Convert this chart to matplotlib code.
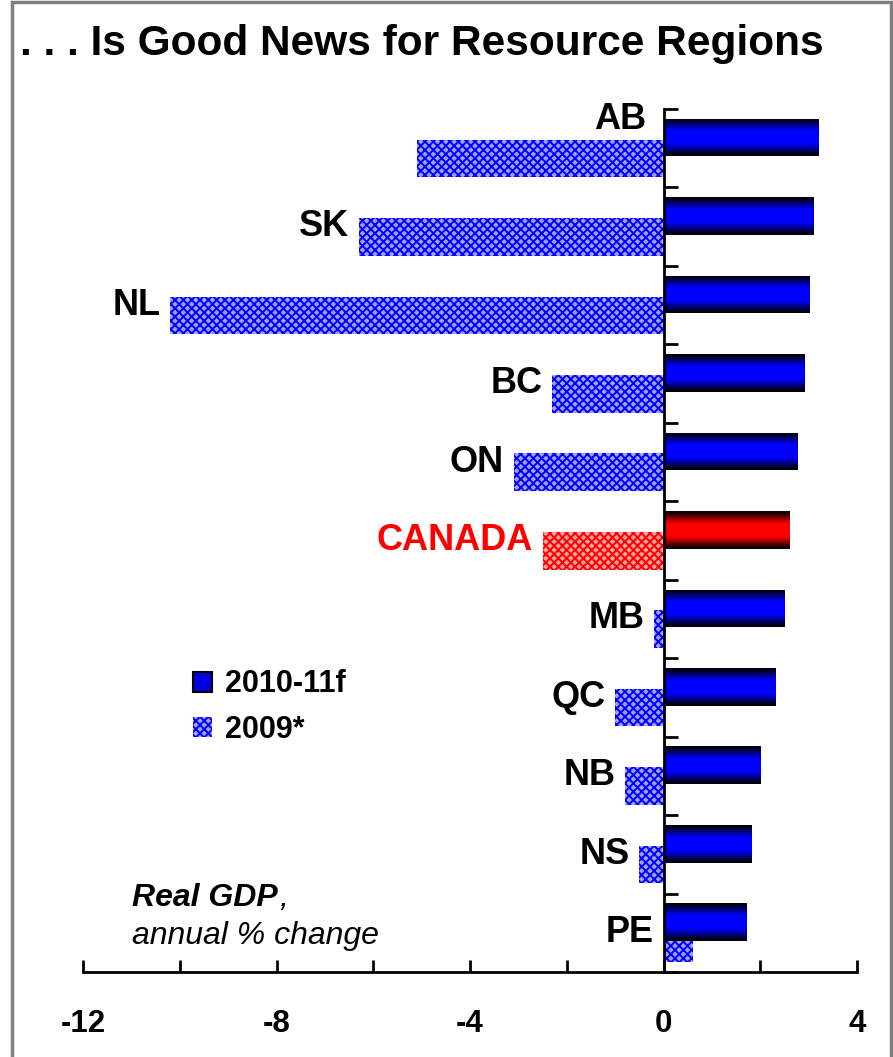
import numpy as np
import matplotlib
matplotlib.use("Agg")
import matplotlib.pyplot as plt
from matplotlib.patches import Rectangle, Patch

# data
regions = ["AB", "SK", "NL", "BC", "ON", "CANADA", "MB", "QC", "NB", "NS", "PE"]
forecast = [3.2, 3.1, 3.0, 2.9, 2.75, 2.6, 2.5, 2.3, 2.0, 1.8, 1.7]   # 2010-11f
actual = [-5.1, -6.3, -10.2, -2.3, -3.1, -2.5, -0.2, -1.0, -0.8, -0.5, 0.6]  # 2009*
xticks_major = [-12, -8, -4, 0, 4]

plt.rcParams['font.family'] = ['Liberation Sans', 'DejaVu Sans']
plt.rcParams['hatch.linewidth'] = 1.4

fig = plt.figure(figsize=(8.93, 10.57), dpi=100)
ax = fig.add_axes([83 / 893, 85 / 1057, (857 - 83) / 893, (972 - 109) / 1057])

y = np.arange(len(regions))
h = 0.48
HATCH = "xxxx"


def grad_fill(bar, color):
    # vertical gradient: black edges, full colour in the middle
    t = np.linspace(0, 1, 64)
    k = np.clip(np.sin(np.pi * t) * 1.15, 0, 1) ** 1.3
    img = k[:, None, None] * np.array(color)[None, None, :]
    x0, y0 = bar.get_x(), bar.get_y()
    ext = [x0, x0 + bar.get_width(), y0 + bar.get_height(), y0]
    im = ax.imshow(img, extent=ext, aspect='auto', zorder=3, interpolation='bilinear')
    im.set_clip_path(bar)


for i, reg in enumerate(regions):
    is_ca = reg == "CANADA"
    main = (1, 0, 0) if is_ca else (0, 0, 1)
    hatch_col = "#ff0000" if is_ca else "#0000ff"
    fill_col = "#ffa0a0" if is_ca else "#a0a0ff"
    ax.barh(y[i] + 0.13, actual[i], height=h, color=fill_col, edgecolor=hatch_col,
            hatch=HATCH, linewidth=0, zorder=2)
    b1 = ax.barh(y[i] - 0.135, forecast[i], height=h, color="none", linewidth=0, zorder=3)[0]
    grad_fill(b1, main)

    # category labels
    col = "red" if is_ca else "black"
    if reg == "AB":
        ax.text(-0.35, y[i] - 0.36, reg, ha="right", va="center", fontsize=26,
                fontweight="bold", color=col)
    else:
        xl = min(actual[i], 0) - 0.2
        ax.text(xl, y[i], reg, ha="right", va="center", fontsize=26,
                fontweight="bold", color=col)

ax.set_xlim(-12, 4)
ax.set_ylim(len(regions) - 0.5, -0.5)

for s in ["top", "right"]:
    ax.spines[s].set_visible(False)
ax.spines["left"].set_position(("data", 0))
ax.spines["left"].set_linewidth(2)
ax.spines["bottom"].set_linewidth(2)
ax.spines["left"].set_zorder(5)

ax.set_yticks(np.arange(-0.5, len(regions), 1))
ax.set_yticklabels([])
ax.tick_params(axis="y", direction="in", length=10, width=2)

ax.set_xticks(xticks_major)
ax.set_xticklabels([str(v) for v in xticks_major], fontsize=22.5, fontweight="bold")
ax.set_xticks(np.arange(-12, 5, 2), minor=True)
ax.tick_params(axis="x", which="both", direction="in", length=9, width=2, pad=27)

# legend
handles = [Patch(facecolor="#0000e0", edgecolor="black", linewidth=1.5, label="2010-11f"),
           Patch(facecolor="#a0a0ff", edgecolor="#0000ff", hatch=HATCH, linewidth=0, label="2009*")]
ax.legend(handles=handles, loc="upper left", bbox_to_anchor=(165 / 893, 1 - 642 / 1057),
          bbox_transform=fig.transFigure, frameon=False,
          prop={"size": 22, "weight": "bold"}, handlelength=0.65, handleheight=0.65,
          handletextpad=0.4, labelspacing=0.5)

# unit note
note = fig.text(132 / 893, 1 - 898 / 1057, "Real GDP", fontsize=23,
                fontweight="bold", style="italic", va="center")
ax.annotate(",", xy=(1, 0.5), xycoords=note, xytext=(1, 0), textcoords="offset points",
            fontsize=23, style="italic", va="center", ha="left")
fig.text(132 / 893, 1 - 936 / 1057, "annual % change", fontsize=23, style="italic", va="center")

fig.text(20 / 893, 1 - 44 / 1057, ". . . Is Good News for Resource Regions", fontsize=30.5,
         fontweight="bold", va="center")

# grey frame round the slide
fig.patches.append(Rectangle((12 / 893, -0.01), (891 - 12) / 893, 1 - 2 / 1057 + 0.01,
                             transform=fig.transFigure, fill=False, edgecolor="#808080",
                             linewidth=2.5))

fig.savefig("out.png", dpi=100)
